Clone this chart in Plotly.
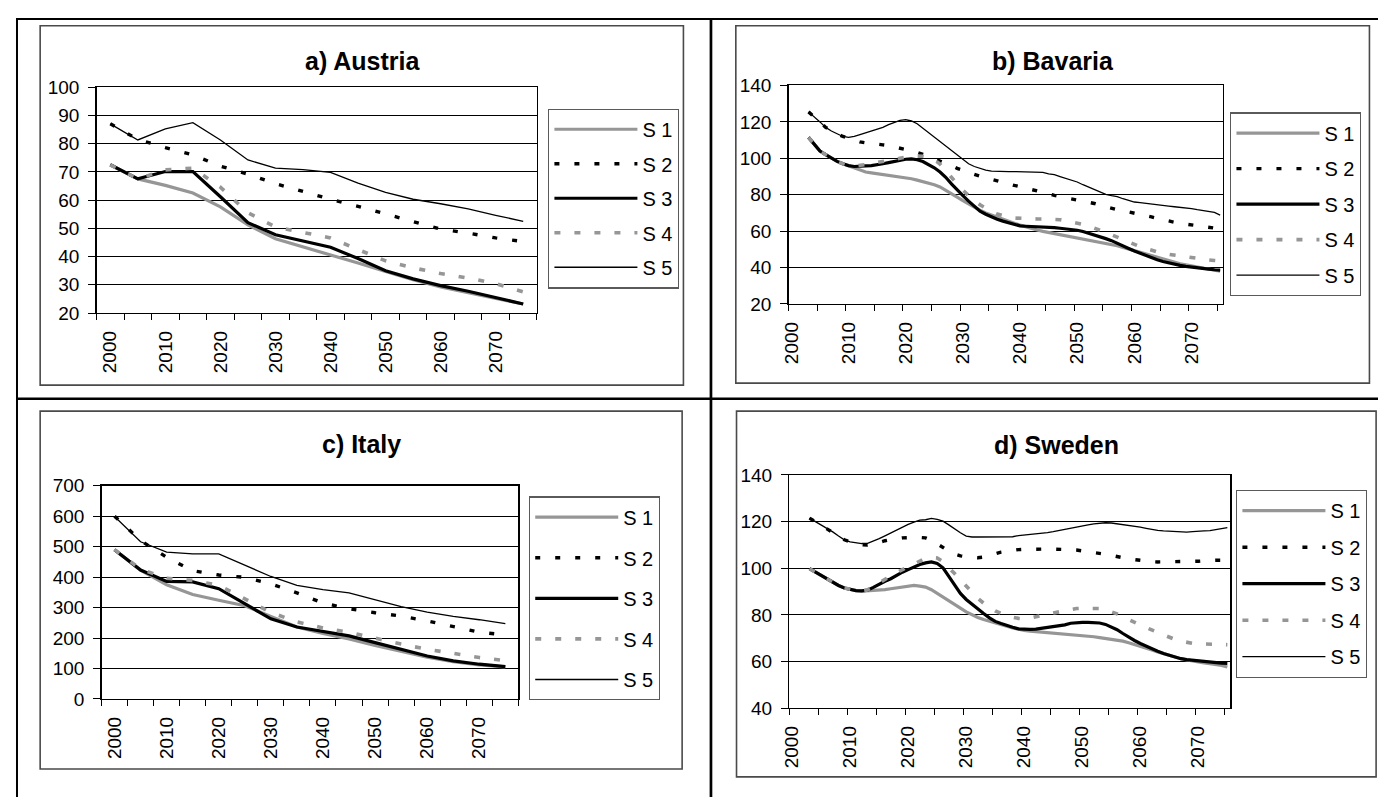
import plotly.graph_objects as go

# ------------------------------------------------------------------ data
names = ["S 1", "S 2", "S 3", "S 4", "S 5"]
label_years = [2000, 2010, 2020, 2030, 2040, 2050, 2060, 2070]

# Austria and Italy: 5-year steps
years5 = [2000, 2005, 2010, 2015, 2020, 2025, 2030, 2035,
          2040, 2045, 2050, 2055, 2060, 2065, 2070, 2075]

austria_s1 = [72.5, 67.5, 65.2, 62.5, 57.6, 51.2, 46.3, 43.5, 40.5, 37.7, 34.7, 31.8, 29.2, 27.2, 25.2, 23.2]
austria_s2 = [87, 81.5, 78.6, 76, 72, 69.2, 65.8, 62.9, 60.3, 57.8, 55, 52.5, 49.7, 48.3, 46.6, 45.3]
austria_s3 = [72.5, 67.5, 70.1, 70.1, 61.2, 52, 47.7, 45.4, 43.3, 39.3, 35, 32.1, 29.7, 27.7, 25.4, 23.2]
austria_s4 = [72.5, 67.5, 70.7, 71.3, 64.6, 55.5, 50.5, 48.6, 46.6, 42.5, 38.5, 36, 34, 32.4, 30.4, 27.5]
austria_s5 = [87, 81.3, 85.2, 87.4, 81.3, 74.2, 71.3, 70.8, 69.8, 66, 62.7, 60.3, 58.7, 56.9, 54.6, 52.5]

italy_s1 = [490, 423, 375, 343, 324, 306, 271, 236, 215, 197, 176, 157, 137, 122, 112, 105]
italy_s2 = [600, 520, 465, 421, 407, 399, 378, 348, 315, 296, 283, 272, 256, 238, 219, 210]
italy_s3 = [490, 423, 386, 384, 362, 311, 263, 236, 221, 207, 185, 162, 141, 125, 114, 106]
italy_s4 = [490, 426, 396, 389, 373, 330, 284, 253, 233, 219, 199, 180, 163, 149, 136, 126]
italy_s5 = [599, 516, 482, 476, 476, 439, 402, 373, 359, 348, 325, 303, 285, 271, 260, 247]

# Bavaria and Sweden: yearly values 2003..2075
years1 = list(range(2003, 2076))

bavaria_s1 = [111.5, 107.5, 104, 102, 100, 98.3, 97, 95.8, 94.7, 93.5,
              92.5, 92, 91.6, 91.2, 90.8, 90.3, 89.8, 89.3, 88.8, 88,
              87.3, 86.5, 85.5, 84.3, 82.6, 80.7, 78.7, 76.8, 75, 73,
              71.5, 70, 68.8, 67.7, 66.6, 65.5, 64.4, 63.3, 62.3, 61.4,
              60.6, 59.9, 59.3, 58.7, 58.1, 57.5, 57, 56.4, 55.8, 55.2,
              54.7, 54.2, 53.6, 52.8, 52, 51.1, 50.2, 49.3, 48.3, 47.3,
              46.3, 45.3, 44.4, 43.5, 42.8, 42.1, 41.5, 40.9, 40.3, 39.7,
              39.1, 38.6, 38]
bavaria_s2 = [125.5, 123, 120, 117, 115, 113.5, 112, 111, 110, 109,
              108.5, 108, 107.8, 107.4, 107, 106.3, 105.7, 105, 104.2, 103.3,
              102.2, 101, 99.8, 98.8, 97.5, 96, 94.5, 93.3, 92.2, 91.2,
              90.2, 89.3, 88.4, 87.5, 86.7, 85.9, 85.1, 84.4, 83.7, 83,
              82.3, 81.4, 80.5, 79.6, 79, 78.5, 78, 77.3, 76.6, 76,
              75.2, 74.2, 73.3, 72.5, 71.8, 71.2, 70.6, 70, 69.3, 68.6,
              67.8, 67, 66.2, 65.5, 64.9, 64.3, 63.8, 63.3, 62.8, 62.3,
              62, 61.7, 61.5]
bavaria_s3 = [111.5, 107.5, 104, 102, 100, 98.3, 97, 96, 95.5, 95.5,
              95.8, 96, 96.3, 97, 97.6, 98.2, 99, 99.5, 99.7, 99.2,
              98.2, 96.6, 94.8, 92.5, 89.6, 86, 82.5, 79.5, 76.5, 73.5,
              71, 69.3, 67.8, 66.5, 65.5, 64.5, 63.5, 62.9, 62.7, 62.6,
              62.5, 62.3, 62.1, 61.9, 61.6, 61.3, 61, 60.5, 59.8, 58.9,
              57.8, 56.9, 55.9, 54.8, 53.5, 52, 50.5, 49.1, 47.8, 46.6,
              45.3, 44.3, 43.3, 42.5, 41.8, 41.2, 40.7, 40.2, 39.7, 39.4,
              39.1, 38.8, 38.6]
bavaria_s4 = [111.5, 107.5, 104, 102, 100, 98.3, 97, 96, 95.8, 96,
              96.5, 97.1, 97.6, 98.1, 98.7, 99.3, 100, 100.6, 101, 101.2,
              101.1, 100.6, 99.3, 96.8, 93.4, 89.5, 85.8, 82.5, 79.5, 76.7,
              74.5, 72.5, 70.8, 69.4, 68.3, 67.6, 67.2, 67, 66.8, 66.7,
              66.7, 66.7, 66.7, 66.6, 66.3, 65.8, 65.2, 64.5, 63.7, 62.8,
              61.8, 60.6, 59.3, 58, 56.6, 55.2, 53.9, 52.7, 51.5, 50.4,
              49.4, 48.5, 47.8, 47.3, 46.8, 46.3, 45.8, 45.4, 45, 44.6,
              44.2, 43.9, 43.7]
bavaria_s5 = [125.5, 123, 120, 117, 115, 113.5, 112, 111.5, 112, 113,
              114, 115, 115.8, 117, 118.5, 119.5, 120.8, 121.2, 120.5, 119,
              116.5, 114.5, 112, 109.5, 107, 104, 101.5, 99, 97, 95.5,
              94.5, 93.5, 93, 92.8, 92.7, 92.7, 92.7, 92.7, 92.7, 92.7,
              92.6, 92.3, 91.5, 91, 90, 89, 88, 87, 85.5, 84.2,
              83, 81.5, 80.2, 79.5, 79, 77.8, 76.8, 76, 75.7, 75.4,
              75.1, 74.6, 74.2, 73.8, 73.4, 73.2, 73, 72.4, 71.8, 71.2,
              70.8, 70.3, 68.8]

sweden_s1 = [99.8, 98.3, 96.8, 95.3, 93.9, 92.6, 91.5, 90.8, 90.4, 90.2,
             90.3, 90.5, 90.6, 90.8, 91.2, 91.6, 92, 92.4, 92.6, 92.3,
             91.9, 90.8, 89.3, 87.8, 86.2, 84.6, 82.9, 81.3, 80, 78.9,
             78, 77.2, 76.6, 75.9, 75.1, 74.4, 73.8, 73.3, 73, 72.8,
             72.6, 72.4, 72.2, 72.1, 71.9, 71.6, 71.4, 71.1, 70.9, 70.6,
             70.2, 69.9, 69.6, 69.2, 68.7, 68, 67.3, 66.5, 65.7, 64.9,
             64.1, 63.3, 62.5, 61.8, 61.2, 60.7, 60.2, 59.8, 59.4, 59.1,
             58.8, 58.3, 57.6]
sweden_s2 = [121.5, 120, 118.5, 117.2, 115.6, 113.8, 112.2, 111.3, 110.6, 110.1,
             109.9, 110.4, 111.2, 111.8, 112.3, 112.7, 113, 113.1, 113.2, 113.2,
             113, 112, 110.5, 108.8, 107.3, 106.1, 105.3, 104.9, 104.6, 104.5,
             104.8, 105.5, 106.3, 106.9, 107.3, 107.7, 108, 108.1, 108.2, 108.2,
             108.2, 108.2, 108.2, 108.2, 108.1, 108, 107.8, 107.5, 107.2, 106.9,
             106.5, 106, 105.5, 104.9, 104.4, 104, 103.7, 103.3, 103, 102.8,
             102.7, 102.7, 102.7, 102.7, 102.7, 102.7, 102.7, 103, 103.2, 103.4,
             103.4, 103.4, 103.4]
sweden_s3 = [99.8, 98.3, 96.8, 95.3, 93.9, 92.6, 91.5, 90.8, 90.4, 90.3,
             90.6, 91.8, 93.2, 94.4, 95.5, 97, 98.3, 99.4, 100.6, 101.6,
             102.3, 102.7, 102, 100.2, 96.5, 92.6, 89.2, 86.6, 84.5, 82.6,
             80.6, 78.7, 77.2, 76.3, 75.4, 74.7, 74, 73.8, 73.8, 73.9,
             74.2, 74.5, 74.8, 75.1, 75.7, 76.4, 76.7, 76.8, 76.8, 76.8,
             76.5, 75.9, 74.8, 73.6, 72, 70.4, 69, 67.7, 66.5, 65.4,
             64.4, 63.4, 62.6, 61.8, 61.2, 60.8, 60.5, 60.2, 60, 59.9,
             59.6, 59.3, 59.2]
sweden_s4 = [99.8, 98.3, 96.8, 95.3, 93.9, 92.6, 91.5, 90.8, 90.4, 90.3,
             90.7, 92.2, 93.8, 95.3, 96.7, 98.1, 99.3, 100.6, 102, 103.3,
             104.3, 104.6, 104.4, 102.8, 100.4, 97.7, 95, 92.3, 89.6, 87.1,
             85, 83.2, 81.7, 80.6, 79.7, 79, 78.5, 78.3, 78.6, 79.3,
             79.8, 80.3, 80.8, 81.3, 81.8, 82.3, 82.7, 82.8, 82.8, 82.8,
             82.7, 82.2, 81.4, 80.4, 79.2, 77.9, 76.7, 75.6, 74.5, 73.4,
             72.4, 71.3, 70.3, 69.4, 68.7, 68.2, 67.8, 67.6, 67.5, 67.4,
             67.3, 67.2, 67.2]
sweden_s5 = [121.5, 120, 118.5, 117.2, 115.6, 113.8, 112.2, 111.3, 110.8, 110.6,
             110.7, 111.6, 112.7, 113.9, 115.2, 116.5, 117.7, 118.8, 119.8, 120.6,
             120.8, 121.4, 121, 120.2, 118.6, 116.8, 115.2, 113.8, 113.4, 113.4,
             113.4, 113.4, 113.4, 113.4, 113.4, 113.5, 114, 114.2, 114.4, 114.7,
             115, 115.3, 115.7, 116.2, 116.9, 117.4, 117.8, 118.2, 118.6, 119,
             119.3, 119.5, 119.4, 119.1, 118.7, 118.3, 118, 117.6, 117.1, 116.5,
             116.2, 116, 115.9, 115.6, 115.5, 115.5, 115.7, 116, 116, 116.1,
             116.5, 117, 117.4]

# ------------------------------------------------------------------ layout / styles
# The page body keeps an 8px margin, so the figure appears 8px in from the
# window corner; the positions below are window pixels, shifted by OFF.
OFF = 8
FW, FH = 1386, 800
FONT = "Liberation Sans, Arial, sans-serif"
GRAY = "#969696"
styles = [
    dict(color=GRAY, width=3.2, dash="solid"),
    dict(color="black", width=3.4, dash="5px,15px"),
    dict(color="black", width=3.2, dash="solid"),
    dict(color=GRAY, width=3.6, dash="6px,14px"),
    dict(color="black", width=1.3, dash="solid"),
]


def px_x(v):
    return (v - OFF) / FW


def px_y(v):
    return 1 - (v - OFF) / FH


panels = [
    dict(title="a) Austria", x=years5,
         series=[austria_s1, austria_s2, austria_s3, austria_s4, austria_s5],
         box=(89, 79, 532, 311), yr=[20, 100], dy=10, xr=[1997.5, 2077.5], m0=1997.5,
         leg=(543.3, 101), gap=5.5, tc=(356.5, 52), frame=(32.3, 16, 679.3, 385)),
    dict(title="b) Bavaria", x=years1,
         series=[bavaria_s1, bavaria_s2, bavaria_s3, bavaria_s4, bavaria_s5],
         box=(785, 77.3, 1222, 301.7), yr=[20, 140], dy=20, xr=[1999.5, 2075.5], m0=1999.5,
         leg=(1229.3, 105), gap=6.5, tc=(1051, 52), frame=(732, 16, 1369.3, 383)),
    dict(title="c) Italy", x=years5,
         series=[italy_s1, italy_s2, italy_s3, italy_s4, italy_s5],
         box=(94, 488.3, 513.3, 707.3), yr=[0, 700], dy=100, xr=[1997.5, 2077.5], m0=1997.5,
         leg=(524, 499.3), gap=11.6, tc=(356, 445), frame=(32.3, 411.7, 678, 779.3)),
    dict(title="d) Sweden", x=years1,
         series=[sweden_s1, sweden_s2, sweden_s3, sweden_s4, sweden_s5],
         box=(785.7, 477.3, 1229.3, 716.7), yr=[40, 140], dy=20, xr=[1999.5, 2075.5], m0=1999.5,
         leg=(1235.3, 492.7), gap=7.5, tc=(1055, 446), frame=(732.7, 411.7, 1376, 787.3)),
]

fig = go.Figure()
layout = dict(
    width=FW, height=FH, autosize=False,
    margin=dict(l=0, r=0, t=0, b=0, pad=0),
    paper_bgcolor="white", plot_bgcolor="white",
    font=dict(family=FONT, color="black"),
    showlegend=True,
    annotations=[], shapes=[],
)

# outer table lines (top / left ones sit as close to the corner as possible)
layout["shapes"] += [
    dict(type="line", xref="paper", yref="paper", x0=0, x1=1, y0=1 - 1 / FH, y1=1 - 1 / FH,
         line=dict(color="black", width=2)),
    dict(type="line", xref="paper", yref="paper", x0=1 / FW, x1=1 / FW, y0=0, y1=1,
         line=dict(color="black", width=2)),
    dict(type="line", xref="paper", yref="paper", x0=px_x(707), x1=px_x(707), y0=0, y1=1,
         line=dict(color="black", width=2.7)),
    dict(type="line", xref="paper", yref="paper", x0=0, x1=1, y0=px_y(399), y1=px_y(399),
         line=dict(color="black", width=2.7)),
]

for i, p in enumerate(panels):
    n = "" if i == 0 else str(i + 1)
    xa, ya = "x" + n, "y" + n
    lg = "legend" + n
    l, t, r, b = p["box"]
    for j, (nm, vals) in enumerate(zip(names, p["series"])):
        fig.add_trace(go.Scatter(
            x=p["x"], y=vals, name=nm, mode="lines", xaxis=xa, yaxis=ya,
            line=dict(color=styles[j]["color"], width=styles[j]["width"], dash=styles[j]["dash"]),
            legend=lg, legendgroup=f"{i}_{j}", hoverinfo="skip",
        ))
    layout["xaxis" + n] = dict(
        domain=[px_x(l), px_x(r)], anchor=ya, range=p["xr"],
        tickmode="array", tickvals=label_years, ticktext=[str(v) for v in label_years],
        tickangle=-90, ticks="outside", ticklen=6, tickcolor="rgba(0,0,0,0)",
        tickfont=dict(family=FONT, size=19, color="black"), ticklabelstandoff=3,
        showline=True, linecolor="black", linewidth=1.3, mirror=True,
        showgrid=False, zeroline=False, fixedrange=True,
        minor=dict(tick0=p["m0"], dtick=5, ticks="outside", ticklen=6,
                   tickcolor="black", tickwidth=1, showgrid=False),
    )
    layout["yaxis" + n] = dict(
        domain=[px_y(b), px_y(t)], anchor=xa, range=p["yr"], tick0=p["yr"][0], dtick=p["dy"],
        ticks="outside", ticklen=7, tickcolor="black", tickwidth=1,
        tickfont=dict(family=FONT, size=19, color="black"), ticklabelstandoff=5,
        showline=True, linecolor="black", linewidth=1.3, mirror=True,
        showgrid=True, gridcolor="black", gridwidth=1, zeroline=False, fixedrange=True,
    )
    layout[lg] = dict(
        x=px_x(p["leg"][0]), y=px_y(p["leg"][1]), xanchor="left", yanchor="top",
        xref="paper", yref="paper",
        bgcolor="white", bordercolor="#5a5a5a", borderwidth=1.2,
        font=dict(family=FONT, size=20, color="black"),
        tracegroupgap=p["gap"], traceorder="grouped", itemwidth=83,
    )
    layout["annotations"].append(dict(
        text="<b>" + p["title"] + "</b>", xref="paper", yref="paper",
        x=px_x(p["tc"][0]), y=px_y(p["tc"][1]), xanchor="center", yanchor="middle",
        showarrow=False, font=dict(family=FONT, size=25, color="black"),
    ))
    fl, ft, fr, fb = p["frame"]
    layout["shapes"].append(dict(
        type="rect", xref="paper", yref="paper", x0=px_x(fl), x1=px_x(fr),
        y0=px_y(fb), y1=px_y(ft), line=dict(color="#4a4a4a", width=1.6),
        fillcolor="rgba(0,0,0,0)", layer="below",
    ))

fig.update_layout(**layout)

fig.write_html("out.html", config={"responsive": False, "staticPlot": True})
